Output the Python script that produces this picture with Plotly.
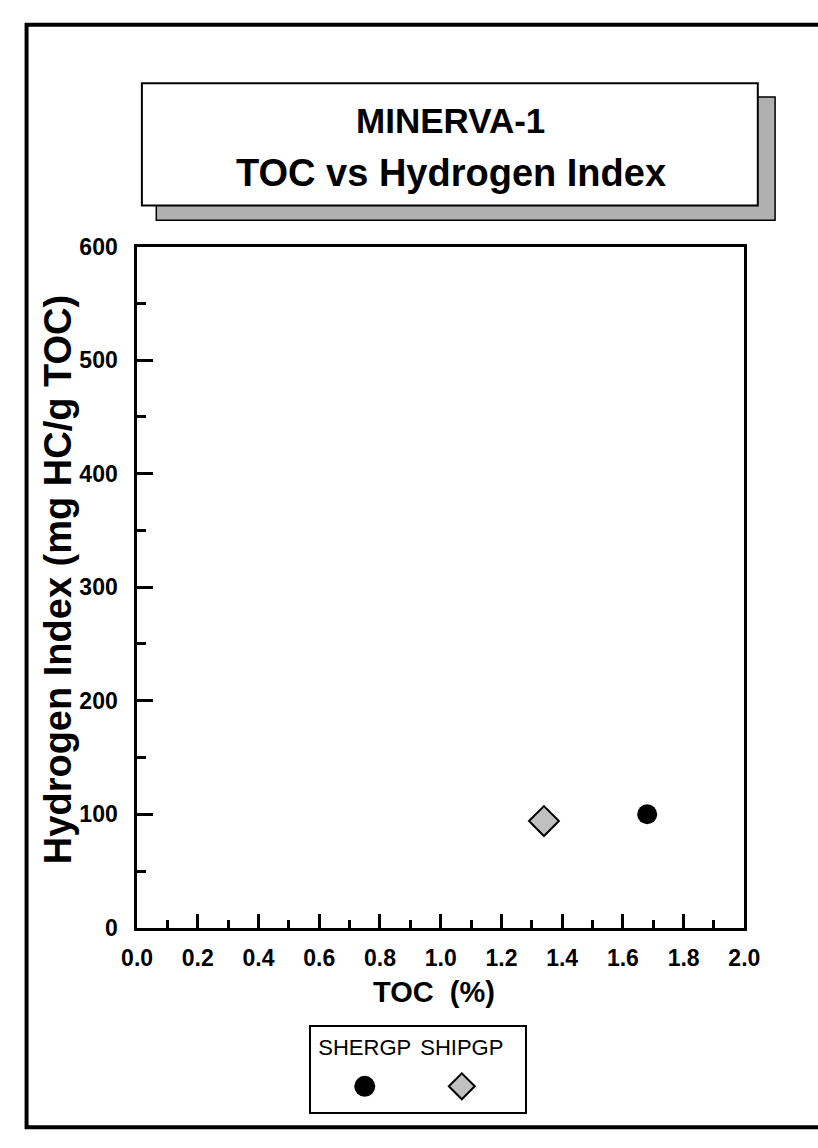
import plotly.graph_objects as go

# ---- data ----
series_names = ["SHERGP", "SHIPGP"]
toc_values = [[1.68], [1.34]]          # TOC (%)
hi_values = [[100], [94]]              # Hydrogen Index (mg HC/g TOC)
marker_symbols = ["circle", "diamond"]
marker_colors = ["black", "#c0c0c0"]
marker_sizes = [20, 23]

x_ticks = [0.0, 0.2, 0.4, 0.6, 0.8, 1.0, 1.2, 1.4, 1.6, 1.8, 2.0]
y_ticks = [0, 100, 200, 300, 400, 500, 600]

W, H = 818, 1148
def px(x):
    return x / W
def py(y):
    return 1 - y / H

FONT = "Liberation Sans, Arial, sans-serif"

fig = go.Figure()

# main data
for name, xs, ys, sym, col, sz in zip(series_names, toc_values, hi_values,
                                      marker_symbols, marker_colors, marker_sizes):
    fig.add_trace(go.Scatter(
        x=xs, y=ys, mode="markers", name=name, showlegend=False,
        marker=dict(symbol=sym, color=col, size=sz,
                    line=dict(color="black", width=2 if sym != "circle" else 0)),
        xaxis="x", yaxis="y"))

# custom legend (second axes pair)
legend_sizes = [21, 20]
for name, sym, col, sz in zip(series_names, marker_symbols, marker_colors, legend_sizes):
    fig.add_trace(go.Scatter(
        x=[name], y=[0], mode="markers", showlegend=False,
        marker=dict(symbol=sym, color=col, size=sz,
                    line=dict(color="black", width=2 if sym != "circle" else 0)),
        xaxis="x2", yaxis="y2"))

axis_common = dict(showline=True, linecolor="black", linewidth=2.5, mirror=True,
                   showgrid=False, zeroline=False, ticks="inside", tickcolor="black",
                   tickwidth=2.5)

fig.update_layout(
    width=W, height=H,
    margin=dict(l=0, r=0, t=0, b=0),
    paper_bgcolor="white", plot_bgcolor="white",
    showlegend=False,
    xaxis=dict(**axis_common, domain=[px(126), px(758)], range=[0, 2],
               tickvals=x_ticks, ticktext=[f"{v:.1f}" for v in x_ticks],
               ticklen=14, ticklabelstandoff=8,
               minor=dict(dtick=0.1, ticks="inside", ticklen=8, tickwidth=2.5,
                          tickcolor="black", showgrid=False),
               tickfont=dict(family=FONT, size=23, color="black", weight="bold")),
    yaxis=dict(**axis_common, domain=[py(936), py(239)], range=[0, 600],
               tickvals=y_ticks, ticklen=16, ticklabelstandoff=12,
               minor=dict(dtick=50, ticks="inside", ticklen=9, tickwidth=2.5,
                          tickcolor="black", showgrid=False),
               tickfont=dict(family=FONT, size=23, color="black", weight="bold")),
    xaxis2=dict(domain=[px(307), px(530)], range=[-0.554, 1.654], anchor="y2",
                type="category", categoryarray=series_names, side="top",
                ticklabelposition="inside", ticks="", showline=True, mirror=True,
                linecolor="black", linewidth=2, showgrid=False, zeroline=False,
                ticklabelstandoff=14,
                tickfont=dict(family=FONT, size=22, color="black")),
    yaxis2=dict(domain=[py(1124), py(1038)], range=[-0.3, 0.7], anchor="x2",
                showticklabels=False, ticks="", showline=True, mirror=True,
                linecolor="black", linewidth=2, showgrid=False, zeroline=False),
)

shapes = [
    # page frame
    dict(type="rect", xref="paper", yref="paper", x0=px(11), x1=px(840),
         y0=py(1140), y1=py(12), line=dict(color="black", width=4),
         fillcolor="rgba(0,0,0,0)", layer="below"),
    # title shadow
    dict(type="rect", xref="paper", yref="paper", x0=px(146), x1=px(790),
         y0=py(212), y1=py(86), line=dict(color="black", width=1.5),
         fillcolor="#b0b0b0", layer="above"),
    # title box
    dict(type="rect", xref="paper", yref="paper", x0=px(131), x1=px(772),
         y0=py(197), y1=py(72), line=dict(color="black", width=2),
         fillcolor="white", layer="above"),
]
fig.update_layout(shapes=shapes)

annotations = [
    dict(text="MINERVA-1", x=px(452), y=py(110), xref="paper", yref="paper",
         showarrow=False, xanchor="center", yanchor="middle",
         font=dict(family=FONT, size=35, color="black", weight="bold")),
    dict(text="TOC vs Hydrogen Index", x=px(453), y=py(164), xref="paper", yref="paper",
         showarrow=False, xanchor="center", yanchor="middle",
         font=dict(family=FONT, size=38, color="black", weight="bold")),
    dict(text="Hydrogen Index (mg HC/g TOC)", x=px(44), y=py(580), xref="paper",
         yref="paper", showarrow=False, xanchor="center", yanchor="middle",
         textangle=-90, font=dict(family=FONT, size=38, color="black", weight="bold")),
    dict(text="TOC  (%)", x=px(435), y=py(1002), xref="paper", yref="paper",
         showarrow=False, xanchor="center", yanchor="middle",
         font=dict(family=FONT, size=29, color="black", weight="bold")),
]
fig.update_layout(annotations=annotations)

fig.write_html("out.html", config={"displayModeBar": False},
               post_script="document.body.style.margin='0';document.body.style.overflow='hidden';")
